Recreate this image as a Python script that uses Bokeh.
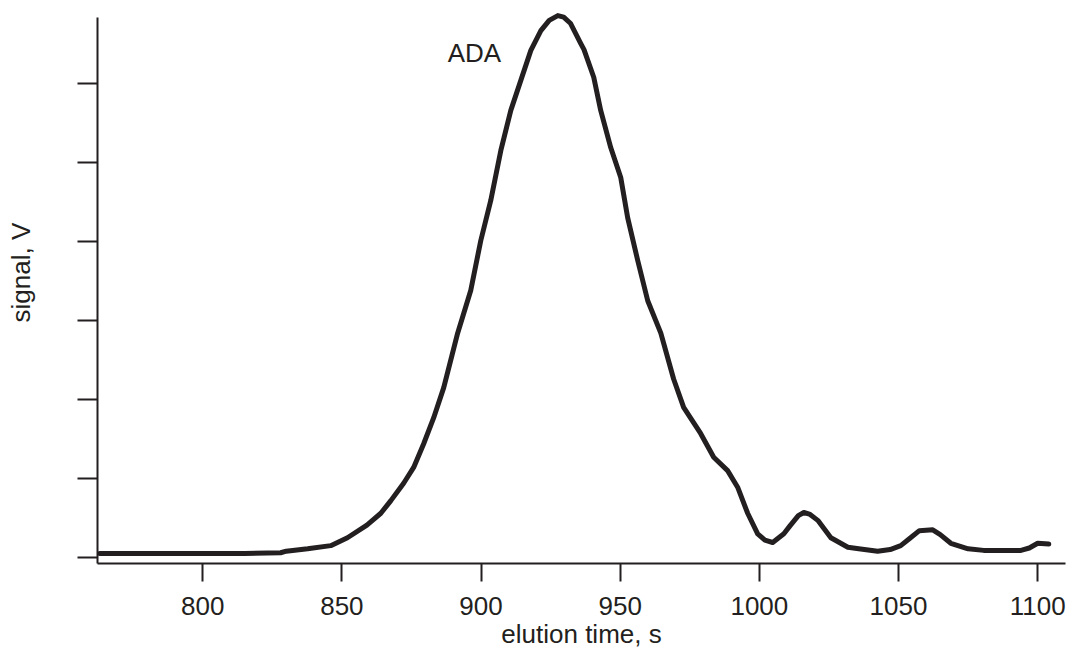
from bokeh.plotting import figure
from bokeh.models import FixedTicker, Label, Range1d, Title
from bokeh.embed import file_html
from bokeh.resources import INLINE

# elution time (s) and detector signal (arbitrary V units, tick spacing = 1)
time_s = [763, 780, 800, 815, 828, 830, 837.7, 846, 852, 859, 864, 867.6, 872.2,
          875.8, 879.4, 883, 886.6, 891.6, 896.3, 899.9, 903.5, 907.1, 910.7,
          914.3, 917.9, 921.5, 924.5, 927.6, 929.7, 932.2, 935.8, 937, 940.5,
          943, 946.6, 950.2, 952.7, 956.3, 959.9, 964.6, 969.2, 972.8, 978.9,
          983.6, 988.6, 992.2, 995.8, 999.4, 1002, 1004.8, 1008.8, 1011, 1014,
          1016, 1018, 1021, 1025.7, 1031.8, 1035.7, 1042.5, 1047, 1050.8, 1054,
          1057.5, 1062.3, 1065, 1068.8, 1075, 1080.6, 1094, 1097, 1100, 1104]
signal_v = [0.05, 0.05, 0.05, 0.05, 0.06, 0.08, 0.11, 0.15, 0.25, 0.41, 0.56, 0.72,
            0.94, 1.14, 1.44, 1.77, 2.15, 2.84, 3.38, 4.01, 4.52, 5.15, 5.66,
            6.04, 6.42, 6.67, 6.80, 6.86, 6.84, 6.76, 6.51, 6.43, 6.08, 5.66,
            5.19, 4.81, 4.30, 3.76, 3.25, 2.84, 2.26, 1.90, 1.57, 1.27, 1.10,
            0.89, 0.56, 0.30, 0.22, 0.19, 0.30, 0.40, 0.53, 0.57, 0.55, 0.47,
            0.25, 0.13, 0.11, 0.08, 0.10, 0.15, 0.24, 0.34, 0.35, 0.29, 0.18,
            0.11, 0.09, 0.09, 0.12, 0.18, 0.17]

x_ticks = [800, 850, 900, 950, 1000, 1050, 1100]
y_ticks = [0, 1, 2, 3, 4, 5, 6]

INK = "#231f20"
FONT = "Liberation Sans"

p = figure(width=1066, height=653, output_backend="svg", toolbar_location=None,
           x_range=Range1d(762.2, 1110.0), y_range=Range1d(-0.076, 6.95),
           min_border_left=97, min_border_right=1, min_border_top=8,
           min_border_bottom=90)
p.outline_line_color = None
p.grid.visible = False
p.background_fill_color = "white"

p.line(time_s, signal_v, line_color=INK, line_width=5, line_join="round",
       line_cap="round")

# x axis
xa = p.xaxis[0]
xa.ticker = FixedTicker(ticks=x_ticks)
xa.axis_line_color = INK
xa.axis_line_width = 2
xa.major_tick_line_color = INK
xa.major_tick_line_width = 2
xa.major_tick_out = 18
xa.major_tick_in = 0
xa.minor_tick_line_color = None
xa.major_label_text_font = FONT
xa.major_label_text_font_size = "26px"
xa.major_label_text_color = INK
xa.major_label_standoff = 15
xa.axis_label = "elution time, s"
xa.axis_label_text_font = FONT
xa.axis_label_text_font_size = "26px"
xa.axis_label_text_font_style = "normal"
xa.axis_label_text_color = INK
xa.axis_label_standoff = 1

# y axis (unlabelled ticks); a blank axis label only reserves space
ya = p.yaxis[0]
ya.ticker = FixedTicker(ticks=y_ticks)
ya.bounds = (-0.076, 6.835)
ya.axis_line_color = INK
ya.axis_line_width = 2
ya.major_tick_line_color = INK
ya.major_tick_line_width = 2
ya.major_tick_out = 20
ya.major_tick_in = 0
ya.minor_tick_line_color = None
ya.major_label_overrides = {t: "" for t in y_ticks}
ya.major_label_standoff = 0
ya.axis_label = " "
ya.axis_label_text_font = FONT
ya.axis_label_text_font_size = "26px"
ya.axis_label_standoff = 9

p.add_layout(Title(text="signal, V", align="left", offset=241, standoff=0,
                   vertical_align="bottom",
                   text_font=FONT, text_font_size="26px",
                   text_font_style="normal", text_color=INK), "left")

p.add_layout(Label(x=888.0, y=6.39, text="ADA", text_font=FONT,
                   text_font_size="26px", text_color=INK,
                   text_align="left", text_baseline="alphabetic"))

open("out.html", "w").write(file_html(p, INLINE))
